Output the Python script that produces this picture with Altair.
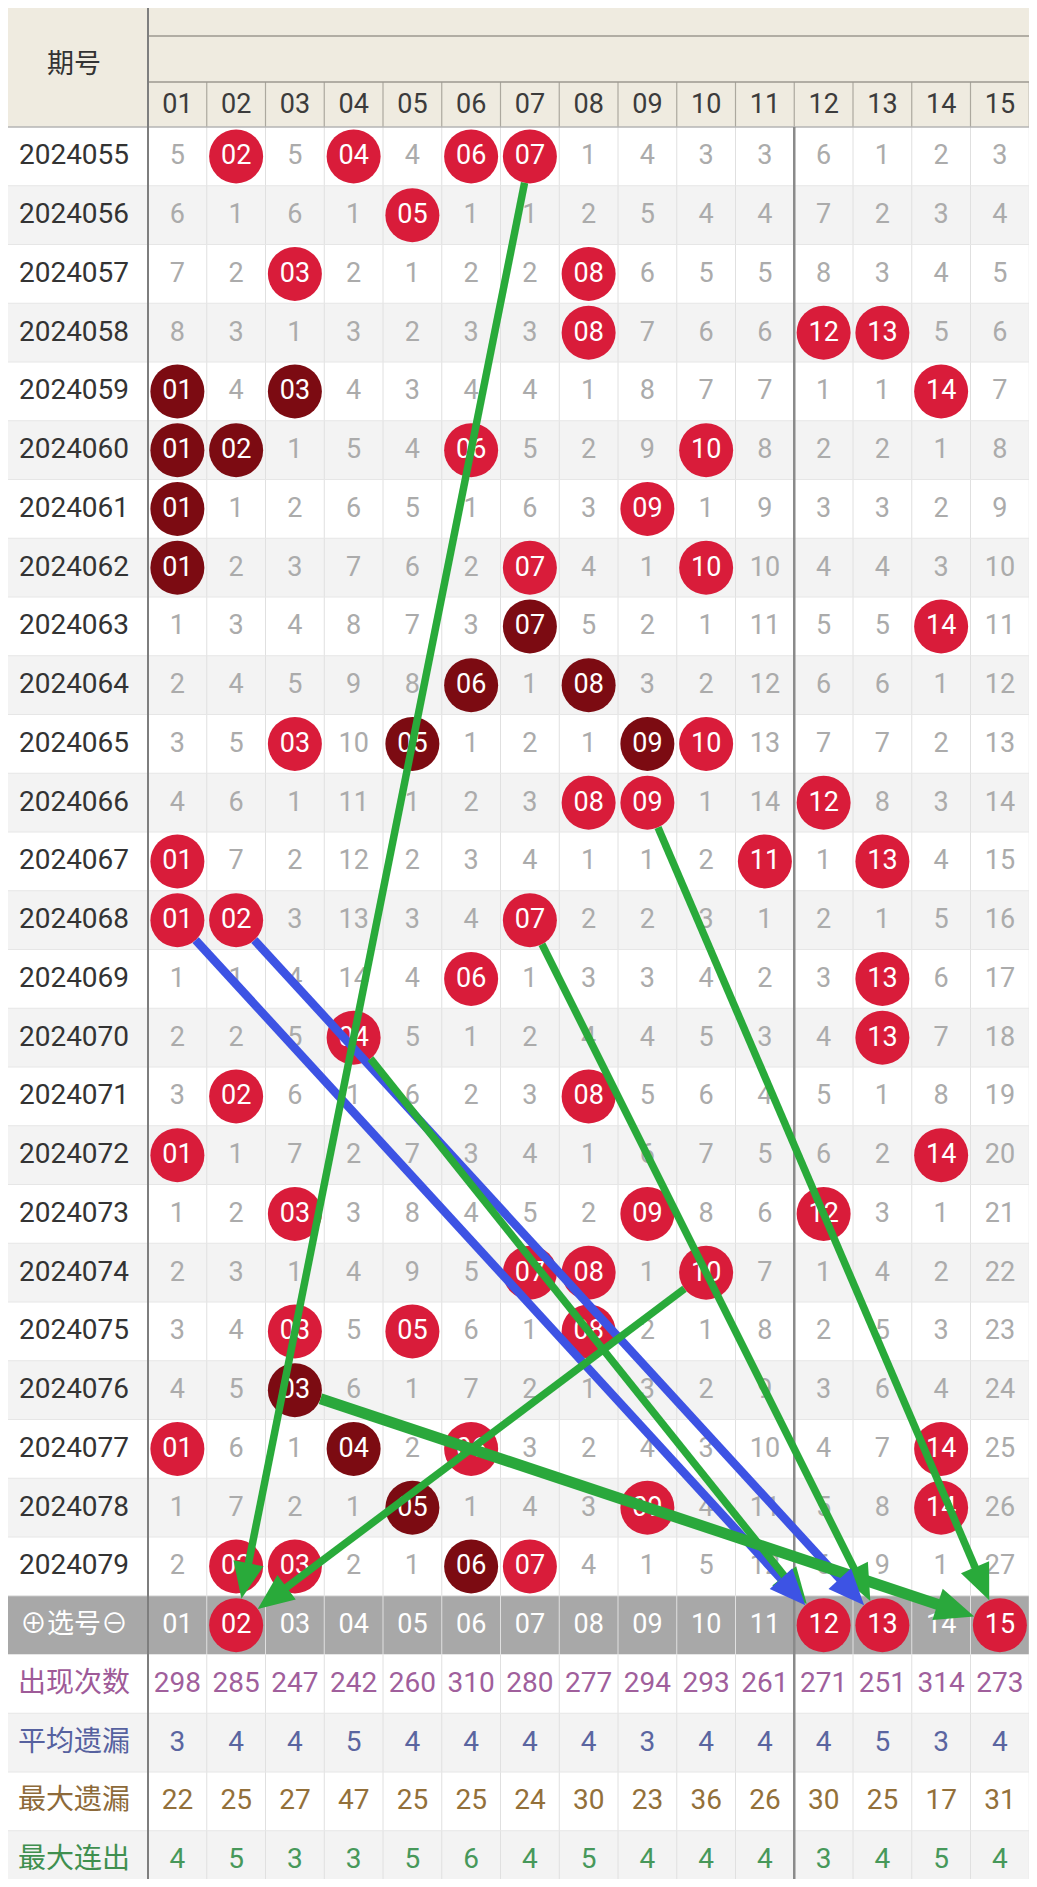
import math
import altair as alt
import pandas as pd

# ---------------- data ----------------
issues = ["2024055", "2024056", "2024057", "2024058", "2024059", "2024060",
          "2024061", "2024062", "2024063", "2024064", "2024065", "2024066",
          "2024067", "2024068", "2024069", "2024070", "2024071", "2024072",
          "2024073", "2024074", "2024075", "2024076", "2024077", "2024078",
          "2024079"]
numbers = ["01", "02", "03", "04", "05", "06", "07", "08", "09", "10",
           "11", "12", "13", "14", "15"]

# miss values per issue; "R" = drawn (red ball), "D" = drawn (dark ball)
grid = [
    "5 R 5 R 4 R R 1 4 3 3 6 1 2 3",
    "6 1 6 1 R 1 1 2 5 4 4 7 2 3 4",
    "7 2 R 2 1 2 2 R 6 5 5 8 3 4 5",
    "8 3 1 3 2 3 3 R 7 6 6 R R 5 6",
    "D 4 D 4 3 4 4 1 8 7 7 1 1 R 7",
    "D D 1 5 4 R 5 2 9 R 8 2 2 1 8",
    "D 1 2 6 5 1 6 3 R 1 9 3 3 2 9",
    "D 2 3 7 6 2 R 4 1 R 10 4 4 3 10",
    "1 3 4 8 7 3 D 5 2 1 11 5 5 R 11",
    "2 4 5 9 8 D 1 D 3 2 12 6 6 1 12",
    "3 5 R 10 D 1 2 1 D R 13 7 7 2 13",
    "4 6 1 11 1 2 3 R R 1 14 R 8 3 14",
    "R 7 2 12 2 3 4 1 1 2 R 1 R 4 15",
    "R R 3 13 3 4 R 2 2 3 1 2 1 5 16",
    "1 1 4 14 4 R 1 3 3 4 2 3 R 6 17",
    "2 2 5 R 5 1 2 4 4 5 3 4 R 7 18",
    "3 R 6 1 6 2 3 R 5 6 4 5 1 8 19",
    "R 1 7 2 7 3 4 1 6 7 5 6 2 R 20",
    "1 2 R 3 8 4 5 2 R 8 6 R 3 1 21",
    "2 3 1 4 9 5 R R 1 R 7 1 4 2 22",
    "3 4 R 5 R 6 1 R 2 1 8 2 5 3 23",
    "4 5 D 6 1 7 2 1 3 2 9 3 6 4 24",
    "R 6 1 D 2 R 3 2 4 3 10 4 7 R 25",
    "1 7 2 1 D 1 4 3 R 4 11 5 8 R 26",
    "2 R R 2 1 D R 4 1 5 12 6 9 1 27",
]

selected = ["02", "12", "13", "15"]

stat_labels = ["出现次数", "平均遗漏", "最大遗漏", "最大连出"]
appear_count = [298, 285, 247, 242, 260, 310, 280, 277, 294, 293, 261, 271, 251, 314, 273]
avg_miss = [3, 4, 4, 5, 4, 4, 4, 4, 3, 4, 4, 4, 5, 3, 4]
max_miss = [22, 25, 27, 47, 25, 25, 24, 30, 23, 36, 26, 30, 25, 17, 31]
max_streak = [4, 5, 3, 3, 5, 6, 4, 5, 4, 4, 4, 3, 4, 5, 4]

# arrows: (from number, from issue, to selected number, colour group)
arrows = [
    ("07", "2024055", "02", "green"),
    ("09", "2024066", "15", "green"),
    ("07", "2024068", "13", "green"),
    ("04", "2024070", "12", "green"),
    ("10", "2024074", "02", "green"),
    ("03", "2024076", "15", "green_thick"),
    ("01", "2024068", "12", "blue"),
    ("02", "2024068", "13", "blue"),
]

# ---------------- layout / style ----------------
U = 58.75                      # pixels per cell
W, H = 1021, 1871
X_DOM = [(8 - 148) / U, (1029 - 148) / U]
Y_DOM = [(8 - 127) / U, (1879 - 127) / U]
LEFT = -148 / U
LABEL_X = (74 - 148) / U
HEAD_L1 = (36 - 127) / U
HEAD_L2 = (82 - 127) / U
RIGHT = 15.6
SEL_ROW = len(issues)          # row index of the 选号 row

NUM_FONT = "Roboto"
CJK_FONT = "Noto Sans CJK SC"
RED = "#d91c3a"
DARK = "#7c0b12"
BEIGE = "#efebe0"
STAT_COLORS = ["#9e5a98", "#56619f", "#8d6a3a", "#3f8f4f"]
STAT_NUM_COLORS = ["#a05f9c", "#5a65a0", "#93703a", "#47985a"]
ARROW_STYLE = {"green": ("#29aa3a", 7.5, 1300),
               "green_thick": ("#2aa83c", 11, 1500),
               "blue": ("#3d53e4", 8.5, 1300)}

xs = alt.Scale(domain=X_DOM, nice=False, zero=False)
ys = alt.Scale(domain=Y_DOM, nice=False, zero=False, reverse=True)


def X(f):
    return alt.X(f, type="quantitative", scale=xs, axis=None)


def Y(f):
    return alt.Y(f, type="quantitative", scale=ys, axis=None)


def cx(num):
    return numbers.index(num) + 0.5


# ---------------- tables ----------------
n_rows = len(issues) + 1 + len(stat_labels)
bands = []
for r in range(n_rows):
    if r == SEL_ROW:
        fill = "#a8a8a8"
    else:
        fill = "#ffffff" if r % 2 == 0 else "#f3f3f3"
    bands.append({"x": LEFT - 0.2, "x2": RIGHT, "y": r, "y2": r + 1, "fill": fill})
bands.append({"x": LEFT - 0.2, "x2": RIGHT, "y": Y_DOM[0] - 0.2, "y2": 0, "fill": BEIGE})
bands_df = pd.DataFrame(bands)

rules = []
for k in range(1, 16):
    rules.append({"x": k, "x2": k, "y": HEAD_L2, "y2": 0, "c": "#aca89e", "w": 1.2})
    rules.append({"x": k, "x2": k, "y": 0, "y2": n_rows, "c": "#e0e0e0", "w": 1})
for r in range(1, n_rows):
    rules.append({"x": LEFT - 0.2, "x2": RIGHT, "y": r, "y2": r, "c": "#e6e6e6", "w": 1})
rules.append({"x": 0, "x2": RIGHT, "y": HEAD_L1, "y2": HEAD_L1, "c": "#9c9990", "w": 1.5})
rules.append({"x": 0, "x2": RIGHT, "y": HEAD_L2, "y2": HEAD_L2, "c": "#9c9990", "w": 1.5})
rules.append({"x": LEFT - 0.2, "x2": RIGHT, "y": 0, "y2": 0, "c": "#b4b4b4", "w": 1.5})
rules.append({"x": 0, "x2": 0, "y": Y_DOM[0] - 0.2, "y2": n_rows, "c": "#7e7e7e", "w": 2})
rules.append({"x": 11, "x2": 11, "y": 0, "y2": n_rows, "c": "#8a8a8a", "w": 2.5})
rules_df = pd.DataFrame(rules)

miss_cells, balls = [], []
for r, row in enumerate(grid):
    for k, tok in enumerate(row.split()):
        if tok in ("R", "D"):
            balls.append({"x": k + 0.5, "y": r + 0.5, "t": numbers[k],
                          "fill": RED if tok == "R" else DARK})
        else:
            miss_cells.append({"x": k + 0.5, "y": r + 0.5, "t": tok})
for num in selected:
    balls.append({"x": cx(num), "y": SEL_ROW + 0.5, "t": num, "fill": RED})
miss_df = pd.DataFrame(miss_cells)
balls_df = pd.DataFrame(balls)

sel_text_df = pd.DataFrame([{"x": k + 0.5, "y": SEL_ROW + 0.5, "t": n}
                            for k, n in enumerate(numbers) if n not in selected])
col_head_df = pd.DataFrame([{"x": k + 0.5, "y": HEAD_L2 / 2, "t": n}
                            for k, n in enumerate(numbers)])
issue_df = pd.DataFrame([{"x": LABEL_X, "y": r + 0.5, "t": s} for r, s in enumerate(issues)])

stat_rows = [appear_count, avg_miss, max_miss, max_streak]
stat_num, stat_lab = [], []
for i, (lab, vals) in enumerate(zip(stat_labels, stat_rows)):
    r = SEL_ROW + 1 + i
    stat_lab.append({"x": LABEL_X, "y": r + 0.5, "t": lab, "c": STAT_COLORS[i]})
    for k, v in enumerate(vals):
        stat_num.append({"x": k + 0.5, "y": r + 0.5, "t": str(v), "c": STAT_NUM_COLORS[i]})
stat_num_df = pd.DataFrame(stat_num)
stat_lab_df = pd.DataFrame(stat_lab)

misc_text_df = pd.DataFrame([
    {"x": LABEL_X, "y": (Y_DOM[0] + 0) / 2 - 0.05, "t": "期号", "c": "#333333"},
    {"x": LABEL_X, "y": SEL_ROW + 0.5, "t": "⊕选号⊖", "c": "#ffffff"},
])

# arrows
R_BALL = 27 / U
arr_lines, arr_heads = [], []
for fnum, fiss, tnum, grp in arrows:
    color, width, hsize = ARROW_STYLE[grp]
    sx, sy = cx(fnum), issues.index(fiss) + 0.5
    tx, ty = cx(tnum), SEL_ROW + 0.5
    dx, dy = tx - sx, ty - sy
    L = math.hypot(dx, dy)
    ux, uy = dx / L, dy / L
    x0, y0 = sx + R_BALL * ux, sy + R_BALL * uy
    tipx, tipy = tx - R_BALL * ux, ty - R_BALL * uy
    hl = math.sqrt(hsize) / U
    x1, y1 = tipx - 0.6 * hl * ux, tipy - 0.6 * hl * uy
    ang = math.degrees(math.atan2(ux, -uy)) % 360
    arr_lines.append({"x": x0, "y": y0, "x2": x1, "y2": y1, "c": color, "w": width, "g": grp})
    arr_heads.append({"x": tipx, "y": tipy, "a": ang, "c": color, "s": hsize, "g": grp})
arr_lines_df = pd.DataFrame(arr_lines)
arr_heads_df = pd.DataFrame(arr_heads)

# ---------------- layers ----------------
bg = alt.Chart(bands_df).mark_rect(clip=True).encode(
    x=X("x"), x2="x2", y=Y("y"), y2="y2", fill=alt.Fill("fill:N", scale=None))

grid_lines = alt.Chart(rules_df).mark_rule(clip=True).encode(
    x=X("x"), x2="x2", y=Y("y"), y2="y2",
    color=alt.Color("c:N", scale=None), strokeWidth=alt.StrokeWidth("w:Q", scale=None))


def text_layer(df, color=None, font=NUM_FONT, size=27):
    kw = dict(font=font, fontSize=size, align="center", baseline="middle")
    if color:
        kw["color"] = color
    ch = alt.Chart(df).mark_text(**kw)
    enc = dict(x=X("x"), y=Y("y"), text="t:N")
    if not color:
        enc["color"] = alt.Color("c:N", scale=None)
    return ch.encode(**enc)


col_heads = text_layer(col_head_df, "#3c3c3c", size=27)
issue_text = text_layer(issue_df, "#333333", size=28)
miss_text = text_layer(miss_df, "#ababab", size=27)
ball_marks = alt.Chart(balls_df).mark_circle(size=54 * 54, opacity=1).encode(
    x=X("x"), y=Y("y"), color=alt.Color("fill:N", scale=None))
ball_text = text_layer(balls_df, "#ffffff", size=27)
sel_text = text_layer(sel_text_df, "#ffffff", size=27)
stat_nums = text_layer(stat_num_df, None, size=28)
stat_labs = text_layer(stat_lab_df, None, font=CJK_FONT, size=28)
misc_text = text_layer(misc_text_df, None, font=CJK_FONT, size=27)

lines_layer = alt.Chart(arr_lines_df).mark_rule(strokeCap="butt").encode(
    x=X("x"), x2="x2", y=Y("y"), y2="y2",
    color=alt.Color("c:N", scale=None), strokeWidth=alt.StrokeWidth("w:Q", scale=None),
    order=alt.Order("g:N"))
heads_layer = alt.Chart(arr_heads_df).mark_point(
    shape="M0,0L-0.85,2L0.85,2Z", filled=True, opacity=1, strokeWidth=0).encode(
    x=X("x"), y=Y("y"),
    color=alt.Color("c:N", scale=None),
    angle=alt.Angle("a:Q", scale=None),
    size=alt.Size("s:Q", scale=None))

chart = alt.layer(
    bg, grid_lines, col_heads, issue_text, miss_text, ball_marks, ball_text,
    sel_text, stat_nums, stat_labs, misc_text, lines_layer, heads_layer
).properties(
    width=W, height=H, padding=0, autosize="none", background="#ffffff"
).configure_view(strokeWidth=0)

chart.save("out.html", embed_options={"renderer": "svg", "actions": False})
